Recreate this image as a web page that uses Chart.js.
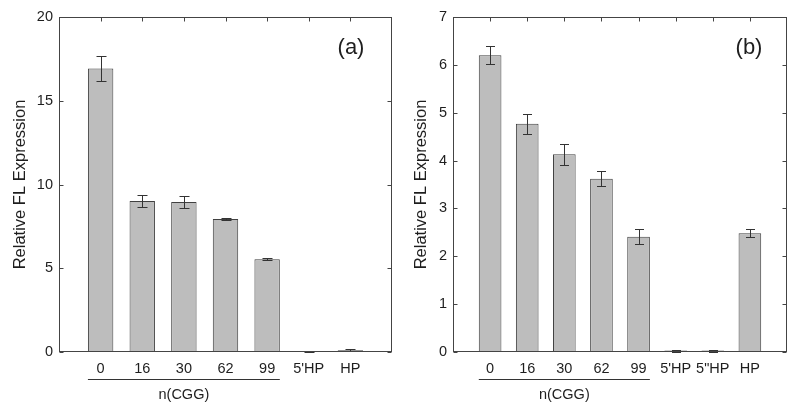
<!DOCTYPE html>
<html><head><meta charset="utf-8">
<script src="https://cdn.jsdelivr.net/npm/chart.js@4/dist/chart.umd.min.js"></script>
<style>
html,body{margin:0;padding:0;background:#fff;}
#wrap{position:relative;width:800px;height:414px;overflow:hidden;}
.c{position:absolute;top:0;width:400px;height:414px;}
</style></head><body>
<div id="wrap">
<div class="c" style="left:0"><canvas id="ca" width="400" height="414"></canvas></div>
<div class="c" style="left:400px"><canvas id="cb" width="400" height="414"></canvas></div>
</div>
<script>
// Panel (a)
const labelsA = ['0', '16', '30', '62', '99', "5'HP", 'HP'];
const valuesA = [16.93, 9.02, 8.96, 7.94, 5.54, 0.02, 0.10];
const errorsA = [0.73, 0.38, 0.38, 0.05, 0.05, 0.02, 0.05];
const yMaxA = 20, yStepA = 5;
// Panel (b)
const labelsB = ['0', '16', '30', '62', '99', "5'HP", '5"HP', 'HP'];
const valuesB = [6.20, 4.77, 4.13, 3.62, 2.41, 0.03, 0.03, 2.48];
const errorsB = [0.19, 0.21, 0.22, 0.16, 0.15, 0.02, 0.02, 0.08];
const yMaxB = 7, yStepB = 1;
const groupCount = 5; // bars underlined as n(CGG)
const groupLabel = 'n(CGG)';
const yTitle = 'Relative FL Expression';

const FONT = "'Liberation Sans', Arial, Helvetica, sans-serif";
const TXT = '#1e1e1e';
const LINE = '#333';

function makeChart(id, labels, values, errors, yMax, yStep, panelLabel, g) {
  const lab = [''].concat(labels, ['']);
  const dat = [null].concat(values, [null]);
  const err = [null].concat(errors, [null]);
  const deco = {
    id: 'deco' + id,
    afterDatasetsDraw(chart) {
      const ctx = chart.ctx, a = chart.chartArea;
      const xs = chart.scales.x, ys = chart.scales.y;
      const meta = chart.getDatasetMeta(0);
      ctx.save();
      ctx.strokeStyle = LINE; ctx.lineWidth = 1;
      // error bars
      for (let i = 1; i < dat.length - 1; i++) {
        const el = meta.data[i];
        const x = Math.round(el.x) + 0.5;
        const yt = Math.round(ys.getPixelForValue(dat[i] + err[i])) + 0.5;
        const yb = Math.round(ys.getPixelForValue(Math.max(0, dat[i] - err[i]))) + 0.5;
        const cw = g.cap;
        ctx.beginPath();
        ctx.moveTo(x, yt); ctx.lineTo(x, yb);
        ctx.moveTo(x - cw, yt); ctx.lineTo(x + cw, yt);
        ctx.moveTo(x - cw, yb); ctx.lineTo(x + cw, yb);
        ctx.stroke();
      }
      // frame
      const L = Math.round(a.left) + 0.5, R = Math.round(a.right) - 0.5;
      const T = Math.round(a.top) + 0.5, B = Math.round(a.bottom) - 0.5;
      ctx.strokeStyle = '#444';
      ctx.strokeRect(L, T, R - L, B - T);
      ctx.beginPath();
      ys.ticks.forEach(t => {
        const y = Math.round(ys.getPixelForValue(t.value)) + 0.5;
        ctx.moveTo(L, y); ctx.lineTo(L + 4, y);
        ctx.moveTo(R, y); ctx.lineTo(R - 4, y);
      });
      for (let i = 1; i < lab.length - 1; i++) {
        const x = Math.round(xs.getPixelForValue(i)) + 0.5;
        ctx.moveTo(x, T); ctx.lineTo(x, T + 4);
      }
      ctx.stroke();
      // n(CGG) underline
      const first = meta.data[1], last = meta.data[groupCount];
      const x0 = first.x - first.width / 2, x1 = last.x + last.width / 2;
      ctx.strokeStyle = '#333';
      ctx.beginPath();
      ctx.moveTo(x0, 379.5); ctx.lineTo(x1, 379.5);
      ctx.stroke();
      ctx.fillStyle = TXT;
      ctx.font = '14.5px ' + FONT;
      ctx.textAlign = 'center'; ctx.textBaseline = 'middle';
      ctx.fillText(groupLabel, (x0 + x1) / 2, 395);
      ctx.font = '22px ' + FONT;
      ctx.fillText(panelLabel, a.right - g.lblDx, a.top + 31);
      ctx.restore();
    }
  };
  return new Chart(document.getElementById(id), {
    type: 'bar',
    data: {
      labels: lab,
      datasets: [{
        data: dat,
        backgroundColor: '#bdbdbd',
        borderColor: '#404040',
        borderWidth: 1,
        categoryPercentage: 1,
        barPercentage: 0.61
      }]
    },
    options: {
      responsive: false,
      animation: false,
      devicePixelRatio: 1,
      layout: { padding: { left: 0, right: 400 - g.right, top: g.top, bottom: 0 } },
      plugins: { legend: { display: false }, tooltip: { enabled: false } },
      scales: {
        x: {
          type: 'category',
          offset: false,
          grid: { display: false, drawTicks: false },
          border: { display: false },
          ticks: { color: TXT, font: { family: FONT, size: 14.5 }, padding: 8, autoSkip: false, maxRotation: 0 },
          afterFit: s => { s.height = 414 - g.bottom; }
        },
        y: {
          min: 0, max: yMax,
          grid: { display: false, drawTicks: false },
          border: { display: false },
          ticks: { stepSize: yStep, color: TXT, font: { family: FONT, size: 14.5 }, padding: 6 },
          title: { display: true, text: yTitle, color: TXT, font: { family: FONT, size: 16.5 }, padding: { top: g.titlePad, bottom: 0 } },
          afterFit: s => { s.width = g.left; }
        }
      }
    },
    plugins: [deco]
  });
}

makeChart('ca', labelsA, valuesA, errorsA, yMaxA, yStepA, '(a)',
  { left: 59, right: 394, top: 17, bottom: 352, cap: 5, lblDx: 41, titlePad: 11 });
makeChart('cb', labelsB, valuesB, errorsB, yMaxB, yStepB, '(b)',
  { left: 53, right: 387, top: 17, bottom: 352, cap: 4.5, lblDx: 38, titlePad: 12 });
</script>
</body></html>
